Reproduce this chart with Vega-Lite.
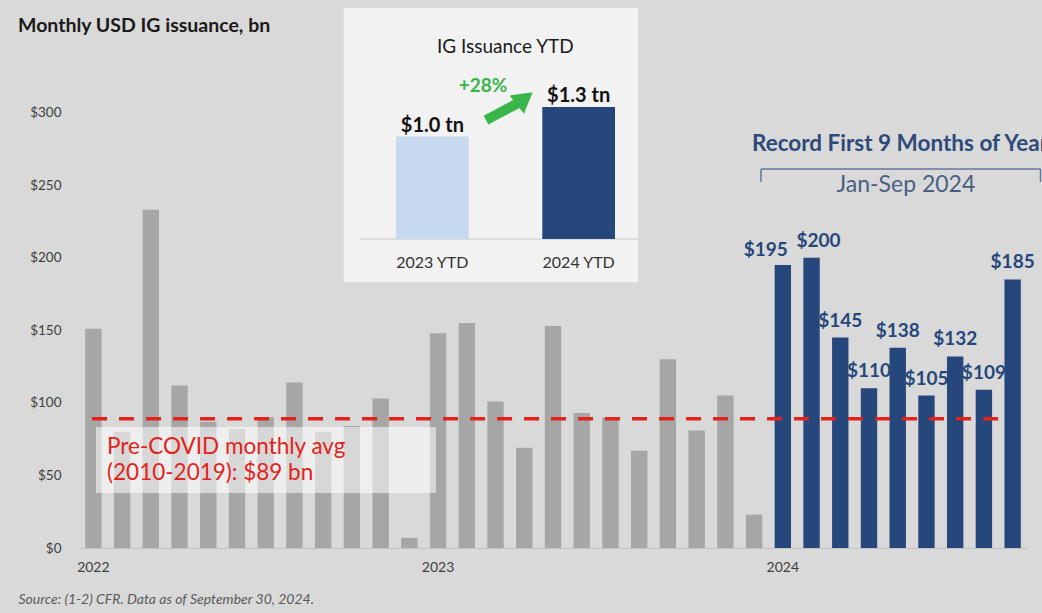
{
  "$schema": "https://vega.github.io/schema/vega-lite/v6.json",
  "width": 948,
  "height": 540,
  "autosize": {"type": "none"},
  "padding": {"left": 79, "top": 8, "right": 15, "bottom": 65},
  "background": "#d9d9d9",
  "config": {"view": {"stroke": null}, "font": "Lato"},
  "title": {
    "text": "Monthly USD IG issuance, bn",
    "anchor": "start",
    "frame": "group",
    "fontSize": 19.5,
    "fontWeight": "bold",
    "color": "#1a1a1a",
    "baseline": "alphabetic",
    "offset": 0,
    "dx": -61,
    "dy": 43
  },
  "datasets": {
    "monthly": [
      {"month": "2022-01", "value": 151}, {"month": "2022-02", "value": 80}, {"month": "2022-03", "value": 233},
      {"month": "2022-04", "value": 112}, {"month": "2022-05", "value": 87}, {"month": "2022-06", "value": 82},
      {"month": "2022-07", "value": 90}, {"month": "2022-08", "value": 114}, {"month": "2022-09", "value": 80},
      {"month": "2022-10", "value": 84}, {"month": "2022-11", "value": 103}, {"month": "2022-12", "value": 7},
      {"month": "2023-01", "value": 148}, {"month": "2023-02", "value": 155}, {"month": "2023-03", "value": 101},
      {"month": "2023-04", "value": 69}, {"month": "2023-05", "value": 153}, {"month": "2023-06", "value": 93},
      {"month": "2023-07", "value": 90}, {"month": "2023-08", "value": 67}, {"month": "2023-09", "value": 130},
      {"month": "2023-10", "value": 81}, {"month": "2023-11", "value": 105}, {"month": "2023-12", "value": 23},
      {"month": "2024-01", "value": 195}, {"month": "2024-02", "value": 200}, {"month": "2024-03", "value": 145},
      {"month": "2024-04", "value": 110}, {"month": "2024-05", "value": 138}, {"month": "2024-06", "value": 105},
      {"month": "2024-07", "value": 132}, {"month": "2024-08", "value": 109}, {"month": "2024-09", "value": 185}
    ],
    "ytd": [
      {"period": "2023 YTD", "value": 1.01},
      {"period": "2024 YTD", "value": 1.3}
    ],
    "one": [{}]
  },
  "layer": [
    {
      "data": {"name": "monthly"},
      "layer": [
        {
          "mark": {"type": "bar"},
          "encoding": {
            "x": {
              "field": "month",
              "type": "ordinal",
              "scale": {"type": "band", "paddingInner": 0.43, "paddingOuter": 0.215},
              "axis": {
                "title": "Source: (1-2) CFR. Data as of September 30, 2024.",
                "titleFont": "Lato",
                "titleFontStyle": "italic",
                "titleFontWeight": "normal",
                "titleFontSize": 14,
                "titleColor": "#595959",
                "titleX": -61,
                "titleY": 55,
                "titleAlign": "left",
                "titleAnchor": "start",
                "titleBaseline": "alphabetic",
                "labelExpr": "substring(datum.value, 5, 7) == '01' ? substring(datum.value, 0, 4) : ''",
                "labelAngle": 0,
                "labelOverlap": false,
                "ticks": false,
                "domainColor": "#c4c4c4",
                "domainWidth": 1,
                "labelFontSize": 14,
                "labelColor": "#404040",
                "labelPadding": 12
              }
            },
            "y": {
              "field": "value",
              "type": "quantitative",
              "scale": {"domain": [0, 372], "nice": false},
              "axis": {
                "title": null,
                "values": [0, 50, 100, 150, 200, 250, 300],
                "labelExpr": "'$' + datum.value",
                "grid": false,
                "ticks": false,
                "domain": false,
                "labelPadding": 18,
                "labelFontSize": 13.5,
                "labelColor": "#404040"
              }
            },
            "color": {
              "condition": {"test": "datum.month >= '2024'", "value": "#25477b"},
              "value": "#a6a6a6"
            }
          }
        },
        {
          "transform": [{"filter": "datum.month >= '2024-03'"}],
          "mark": {"type": "text", "fontSize": 19, "fontWeight": "bold", "color": "#25477b", "baseline": "alphabetic", "dy": -11},
          "encoding": {
            "x": {"field": "month", "type": "ordinal"},
            "y": {"field": "value", "type": "quantitative"},
            "text": {"field": "value", "type": "quantitative", "format": "$.0f"}
          }
        },
        {
          "transform": [{"filter": "datum.month == '2024-01'"}],
          "mark": {"type": "text", "fontSize": 19, "fontWeight": "bold", "color": "#25477b", "baseline": "alphabetic", "dy": -9, "dx": -17},
          "encoding": {
            "x": {"field": "month", "type": "ordinal"},
            "y": {"field": "value", "type": "quantitative"},
            "text": {"field": "value", "type": "quantitative", "format": "$.0f"}
          }
        },
        {
          "transform": [{"filter": "datum.month == '2024-02'"}],
          "mark": {"type": "text", "fontSize": 19, "fontWeight": "bold", "color": "#25477b", "baseline": "alphabetic", "dy": -11, "dx": 7},
          "encoding": {
            "x": {"field": "month", "type": "ordinal"},
            "y": {"field": "value", "type": "quantitative"},
            "text": {"field": "value", "type": "quantitative", "format": "$.0f"}
          }
        },
        {
          "data": {"name": "one"},
          "mark": {"type": "rule", "color": "#e2231a", "strokeWidth": 3.5, "strokeDash": [15, 12]},
          "encoding": {
            "x": {"datum": "2022-01", "type": "ordinal", "bandPosition": 0.42},
            "x2": {"datum": "2024-08", "bandPosition": 1.49},
            "y": {"datum": 89, "type": "quantitative"}
          }
        },
        {
          "data": {"name": "one"},
          "mark": {"type": "rect", "fill": "#ffffff", "fillOpacity": 0.55},
          "encoding": {
            "x": {"datum": "2022-01", "type": "ordinal", "bandPosition": 0.66},
            "x2": {"datum": "2023-01", "bandPosition": 0.37},
            "y": {"datum": 83.4, "type": "quantitative"},
            "y2": {"datum": 37.9}
          }
        },
        {
          "data": {"name": "one"},
          "mark": {
            "type": "text",
            "text": ["Pre-COVID monthly avg", "(2010-2019): $89 bn"],
            "align": "left",
            "baseline": "alphabetic",
            "fontSize": 22.5,
            "lineHeight": 26,
            "color": "#e2231a"
          },
          "encoding": {
            "x": {"datum": "2022-01", "type": "ordinal", "bandPosition": 1.335},
            "y": {"datum": 64.8, "type": "quantitative"}
          }
        },
        {
          "data": {"name": "one"},
          "mark": {"type": "rect", "fill": "#f2f2f2"},
          "encoding": {
            "x": {"datum": "2022-10", "type": "ordinal", "bandPosition": 0},
            "x2": {"datum": "2023-08", "bandPosition": 0.43},
            "y": {"datum": 372, "type": "quantitative"},
            "y2": {"datum": 183.2}
          }
        },
        {
          "data": {"name": "one"},
          "mark": {"type": "text", "text": "Record First 9 Months of Year", "align": "left", "baseline": "alphabetic", "fontSize": 22.5, "fontWeight": "bold", "color": "#2d4a7a"},
          "encoding": {
            "x": {"datum": "2023-12", "type": "ordinal", "bandPosition": 0.37},
            "y": {"datum": 273.5, "type": "quantitative"}
          }
        },
        {
          "data": {"name": "one"},
          "mark": {"type": "rule", "color": "#62779c", "strokeWidth": 1.5},
          "encoding": {
            "x": {"datum": "2023-12", "type": "ordinal", "bandPosition": 0.92},
            "x2": {"datum": "2024-09", "bandPosition": 2.2},
            "y": {"datum": 261.1, "type": "quantitative"}
          }
        },
        {
          "data": {"name": "one"},
          "mark": {"type": "rule", "color": "#62779c", "strokeWidth": 1.5},
          "encoding": {
            "x": {"datum": "2023-12", "type": "ordinal", "bandPosition": 0.92},
            "y": {"datum": 261.1, "type": "quantitative"},
            "y2": {"datum": 252.1}
          }
        },
        {
          "data": {"name": "one"},
          "mark": {"type": "rule", "color": "#62779c", "strokeWidth": 1.5},
          "encoding": {
            "x": {"datum": "2024-09", "type": "ordinal", "bandPosition": 2.2},
            "y": {"datum": 261.1, "type": "quantitative"},
            "y2": {"datum": 252.1}
          }
        },
        {
          "data": {"name": "one"},
          "mark": {"type": "text", "text": "Jan-Sep 2024", "align": "center", "baseline": "alphabetic", "fontSize": 23, "color": "#4a5f82"},
          "encoding": {
            "x": {"datum": "2024-05", "type": "ordinal", "bandPosition": 1.0},
            "y": {"datum": 245.2, "type": "quantitative"}
          }
        }
      ]
    },
    {
      "data": {"name": "ytd"},
      "layer": [
        {
          "data": {"name": "one"},
          "mark": {"type": "rule", "color": "#d6d6d6", "strokeWidth": 1.5},
          "encoding": {
            "x": {
              "datum": "2023 YTD",
              "type": "nominal",
              "bandPosition": -0.495,
              "scale": {"type": "band", "domain": ["2023 YTD", "2024 YTD"], "range": [317, 536], "paddingInner": 0.503, "paddingOuter": 0},
              "axis": null
            },
            "x2": {"datum": "2024 YTD", "bandPosition": 1.316},
            "y": {
              "datum": 0,
              "type": "quantitative",
              "scale": {"domain": [-3.044, 2.276], "nice": false, "zero": false},
              "axis": null
            }
          }
        },
        {
          "mark": {"type": "bar"},
          "encoding": {
            "x": {"field": "period", "type": "nominal"},
            "y": {"field": "value", "type": "quantitative"},
            "y2": {"datum": 0},
            "color": {
              "condition": {"test": "datum.period == '2024 YTD'", "value": "#25477b"},
              "value": "#c6d9f0"
            }
          }
        },
        {
          "transform": [{"calculate": "'$' + format(datum.value, '.1f') + ' tn'", "as": "label"}],
          "mark": {"type": "text", "fontSize": 20, "fontWeight": "bold", "color": "#111111", "baseline": "alphabetic", "dy": -5},
          "encoding": {
            "x": {"field": "period", "type": "nominal"},
            "y": {"field": "value", "type": "quantitative"},
            "text": {"field": "label", "type": "nominal"}
          }
        },
        {
          "mark": {"type": "text", "fontSize": 16, "color": "#333333", "baseline": "alphabetic"},
          "encoding": {
            "x": {"field": "period", "type": "nominal"},
            "y": {"datum": -0.29, "type": "quantitative"},
            "text": {"field": "period", "type": "nominal"}
          }
        },
        {
          "data": {"name": "one"},
          "mark": {"type": "text", "text": "IG Issuance YTD", "fontSize": 19, "color": "#1a1a1a", "baseline": "alphabetic"},
          "encoding": {
            "x": {"datum": "2023 YTD", "type": "nominal", "bandPosition": 1.503},
            "y": {"datum": 1.833, "type": "quantitative"}
          }
        },
        {
          "data": {"name": "one"},
          "mark": {"type": "text", "text": "+28%", "fontSize": 19, "fontWeight": "bold", "color": "#3ab54a", "baseline": "alphabetic"},
          "encoding": {
            "x": {"datum": "2023 YTD", "type": "nominal", "bandPosition": 1.197},
            "y": {"datum": 1.448, "type": "quantitative"}
          }
        },
        {
          "data": {"name": "one"},
          "mark": {"type": "rule", "color": "#3ab54a", "strokeWidth": 10},
          "encoding": {
            "x": {"datum": "2023 YTD", "type": "nominal", "bandPosition": 1.238},
            "x2": {"datum": "2023 YTD", "bandPosition": 1.706},
            "y": {"datum": 1.172, "type": "quantitative"},
            "y2": {"datum": 1.35}
          }
        },
        {
          "data": {"name": "one"},
          "mark": {"type": "point", "shape": "triangle-right", "filled": true, "opacity": 1, "color": "#3ab54a", "size": 540, "angle": -38},
          "encoding": {
            "x": {"datum": "2023 YTD", "type": "nominal", "bandPosition": 1.77},
            "y": {"datum": 1.385, "type": "quantitative"}
          }
        }
      ]
    }
  ],
  "resolve": {
    "scale": {"x": "independent", "y": "independent"},
    "axis": {"x": "independent", "y": "independent"}
  }
}
